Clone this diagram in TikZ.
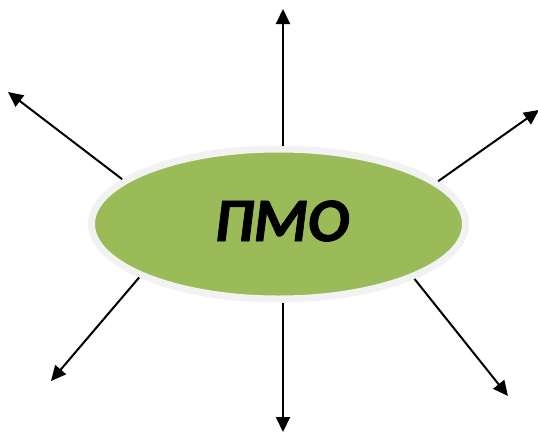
\documentclass[tikz,border=0pt]{standalone}
\usepackage{fontspec}
\setmainfont{Carlito}
\usetikzlibrary{arrows.meta,shapes.geometric}
\definecolor{pmogreen}{HTML}{9BBB59}
\definecolor{pmorim}{HTML}{F2F2F2}
\begin{document}
\begin{tikzpicture}[x=1pt,y=-1pt,
  arr/.style={line width=2pt,-{Triangle[length=15pt,width=14pt]}},
  hub/.style={ellipse,fill=pmogreen,draw=pmorim,line width=7pt,
    minimum width=374pt,minimum height=150pt,inner sep=0pt},
  lbl/.style={inner sep=0pt,
    font=\bfseries\itshape\fontsize{62}{62}\selectfont\addfontfeatures{FakeBold=1.2}}]
\useasboundingbox (0,0) rectangle (538,432);
\node[hub] (pmo) at (278.5,224) {};
\node[lbl] (txt) at (282,221) {ПМО};
\coordinate (ul) at (8,92);
\coordinate (up) at (283,9);
\coordinate (ur) at (539,110);
\coordinate (ll) at (51,381);
\coordinate (lr) at (508,396);
\coordinate (dn) at (283,432);
\draw[arr] (pmo.north -| up) -- (up);
\draw[arr] (pmo.south -| dn) -- (dn);
\draw[arr] (pmo.164.9) -- (ul);
\draw[arr] (pmo.15.6) -- (ur);
\draw[arr] (pmo.201.7) -- (ll);
\draw[arr] (pmo.338.9) -- (lr);
\end{tikzpicture}
\end{document}
